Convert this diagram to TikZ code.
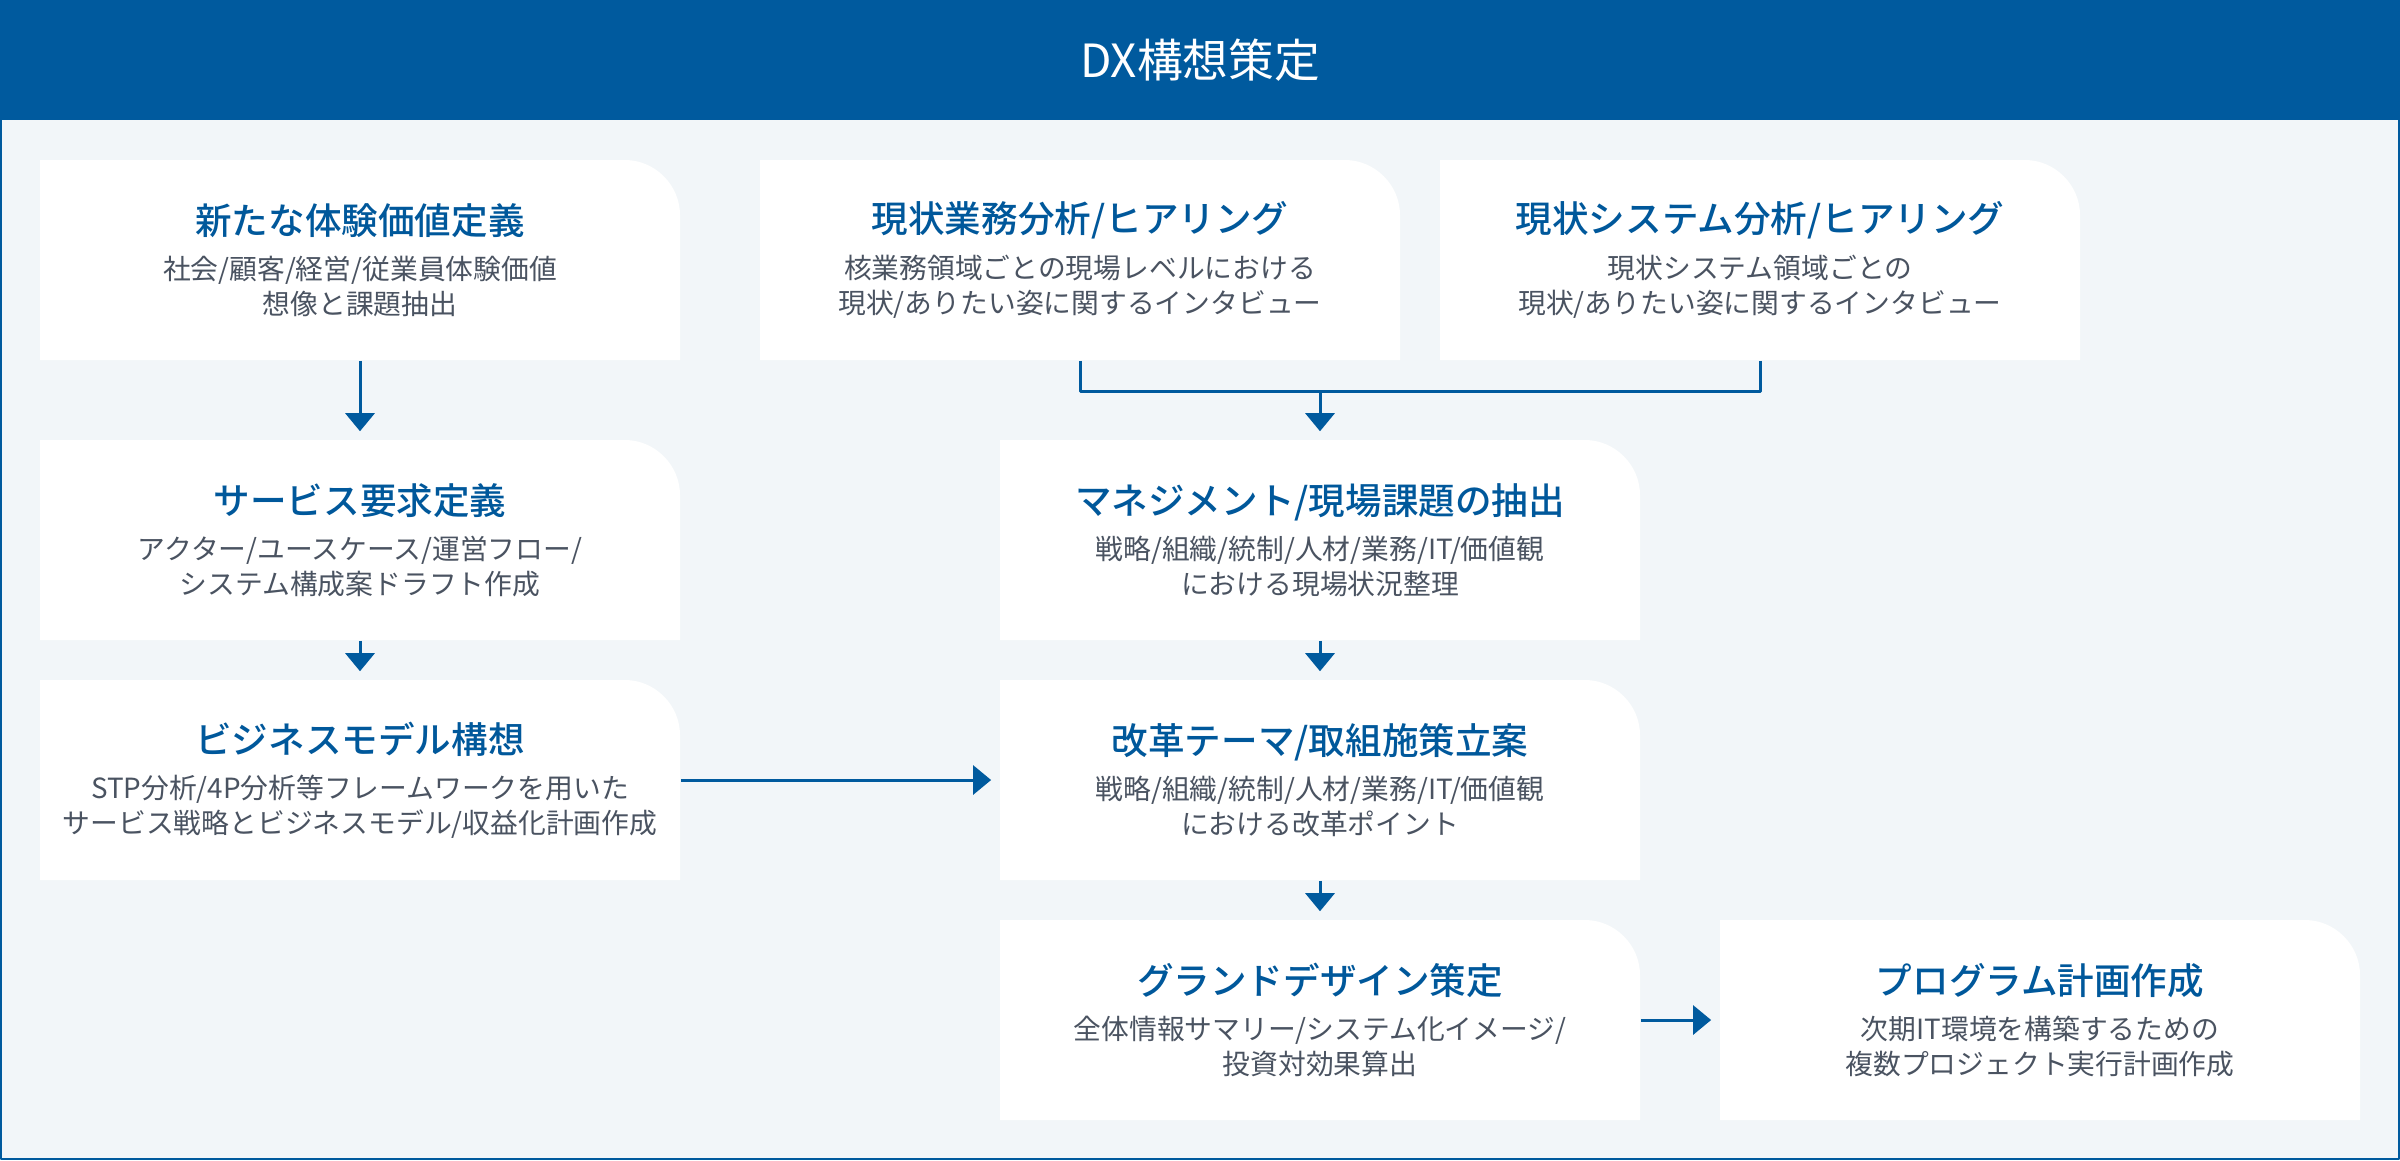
\documentclass[tikz,border=0pt]{standalone}
\usepackage{fontspec}
\setmainfont{Noto Sans CJK JP}[BoldFont={Noto Sans CJK JP Medium}]
\usetikzlibrary{arrows.meta}
\definecolor{dxblue}{HTML}{005A9E}
\definecolor{dxtitle}{HTML}{00589B}
\definecolor{dxgray}{HTML}{4A5361}
\definecolor{dxbg}{HTML}{F2F6F9}
\tikzset{
	cardbox/.style={minimum width=6.4cm, minimum height=2cm, inner sep=0pt, align=center, text=dxgray, font=\fontsize{7.9}{10}\selectfont},
	flow/.style={draw=dxblue, line width=0.03cm, -{Triangle[width=0.29cm,length=0.18cm]}, shorten >=0.08cm},
	link/.style={draw=dxblue, line width=0.03cm},
}
\begin{document}
\begin{tikzpicture}[x=0.01cm, y=-0.01cm, line join=round]
	\useasboundingbox (0,0) rectangle (2400,1160);
	\def\card#1#2#3#4#5{
		\fill[white] (#2-320,#3+100) -- (#2-320,#3-100) -- (#2+265,#3-100) .. controls (#2+295,#3-100) and (#2+320,#3-75) .. (#2+320,#3-45) -- (#2+320,#3+100) -- cycle;
		\node[cardbox] (#1) at (#2,#3) {{\fontsize{10.4}{12}\selectfont\bfseries\color{dxtitle}#4}\\[0.1cm]#5};
	}
	% frame and header
	\fill[dxbg] (0,0) rectangle (2400,1160);
	\draw[dxblue, line width=0.02cm] (1,0) rectangle (2399,1159);
	\fill[dxblue] (0,0) rectangle (2400,120);
	\node[text=white, font=\fontsize{13}{15}\selectfont] (head) at (1200,60) {DX構想策定};
	% cards
	\card{value}{360}{260}{新たな体験価値定義}{社会/顧客/経営/従業員体験価値\\想像と課題抽出}
	\card{work}{1080}{260}{現状業務分析/ヒアリング}{核業務領域ごとの現場レベルにおける\\現状/ありたい姿に関するインタビュー}
	\card{system}{1760}{260}{現状システム分析/ヒアリング}{現状システム領域ごとの\\現状/ありたい姿に関するインタビュー}
	\card{service}{360}{540}{サービス要求定義}{アクター/ユースケース/運営フロー/\\システム構成案ドラフト作成}
	\card{model}{360}{780}{ビジネスモデル構想}{STP分析/4P分析等フレームワークを用いた\\サービス戦略とビジネスモデル/収益化計画作成}
	\card{issue}{1320}{540}{マネジメント/現場課題の抽出}{戦略/組織/統制/人材/業務/IT/価値観\\における現場状況整理}
	\card{theme}{1320}{780}{改革テーマ/取組施策立案}{戦略/組織/統制/人材/業務/IT/価値観\\における改革ポイント}
	\card{design}{1320}{1020}{グランドデザイン策定}{全体情報サマリー/システム化イメージ/\\投資対効果算出}
	\card{program}{2040}{1020}{プログラム計画作成}{次期IT環境を構築するための\\複数プロジェクト実行計画作成}
	% connectors
	\coordinate (join) at (1320,391);
	\draw[link] (work.south) |- (join);
	\draw[link] (system.south) |- (join);
	\draw[flow] (join) -- (issue.north);
	\draw[flow] (value.south) -- (service.north);
	\draw[flow] (service.south) -- (model.north);
	\draw[flow] (model.east) -- (theme.west);
	\draw[flow] (issue.south) -- (theme.north);
	\draw[flow] (theme.south) -- (design.north);
	\draw[flow] (design.east) -- (program.west);
\end{tikzpicture}
\end{document}
